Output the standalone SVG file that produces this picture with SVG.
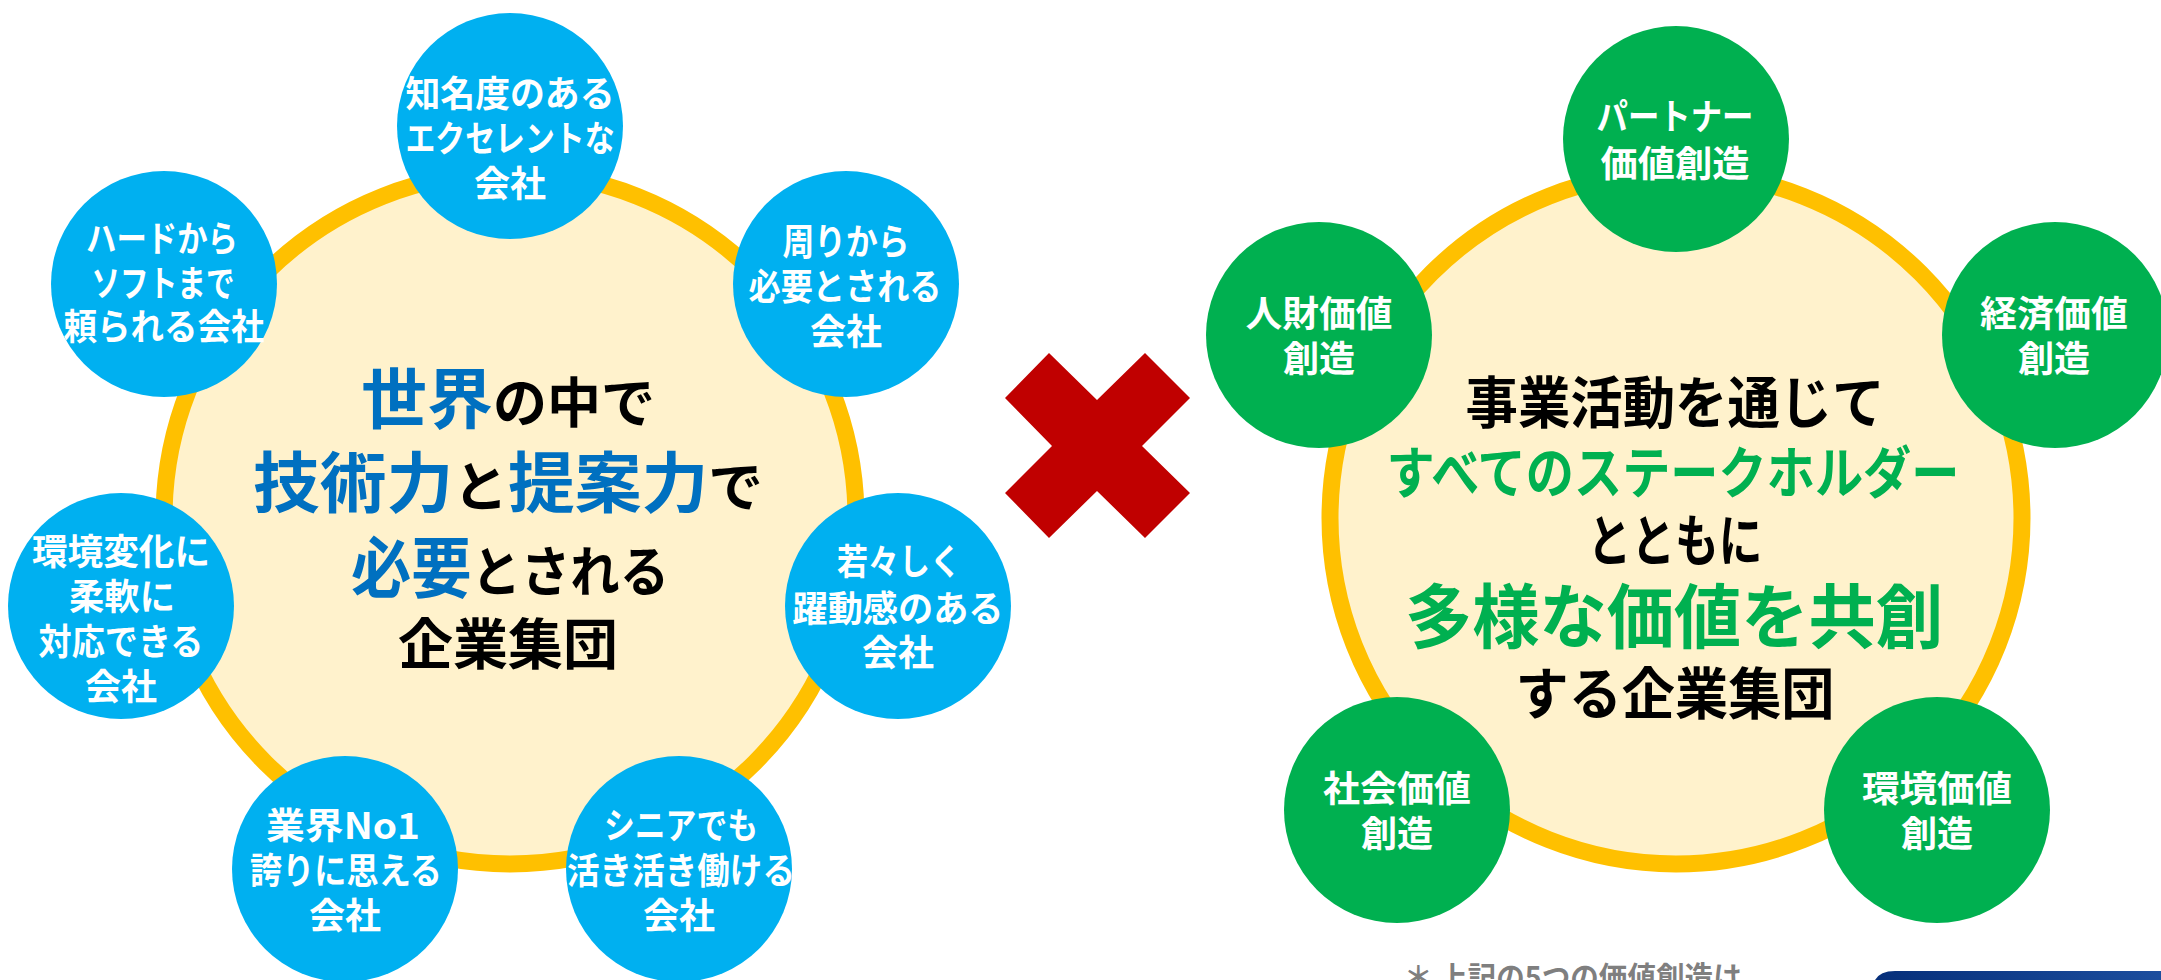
<svg xmlns="http://www.w3.org/2000/svg" width="2161" height="980" viewBox="0 0 2161 980">
<defs>
<style>
text{font-family:"Noto Sans CJK JP","Noto Sans",sans-serif;font-weight:bold;text-anchor:middle}
.ring{fill:#FFF2CC;stroke:#FFC000;stroke-width:17}
.blue{fill:#00B0F0}
.green{fill:#00B050}
.wt{fill:#FFFFFF;font-size:36px}
.bk{fill:#000000}
.bl{fill:#0070C0}
.gr{fill:#00B050}
.note{fill:#7F7F7F;font-size:30px;text-anchor:start}
</style>
<linearGradient id="navy" x1="0" y1="0" x2="1" y2="0">
<stop offset="0" stop-color="#062F7A"/>
<stop offset="1" stop-color="#1C4E9E"/>
</linearGradient>
</defs>
<rect width="2161" height="980" fill="#FFFFFF"/>
<g id="connectors"/>

<!-- LEFT -->
<g id="left-core">
<circle class="ring" cx="510" cy="518" r="346"/>
<text x="508" y="423"><tspan class="bl" font-size="66">世界</tspan><tspan class="bk" font-size="54">の中で</tspan></text>
<text x="508" y="507" textLength="510" lengthAdjust="spacingAndGlyphs"><tspan class="bl" font-size="66">技術力</tspan><tspan class="bk" font-size="54">と</tspan><tspan class="bl" font-size="66">提案力</tspan><tspan class="bk" font-size="54">で</tspan></text>
<text x="510" y="592" textLength="318" lengthAdjust="spacingAndGlyphs"><tspan class="bl" font-size="66">必要</tspan><tspan class="bk" font-size="54">とされる</tspan></text>
<text class="bk" x="508" y="664" font-size="55">企業集団</text>
</g>
<g id="n-chimeido">
<circle class="blue" cx="510" cy="126" r="113"/>
<text class="wt" x="510" y="107" textLength="209" lengthAdjust="spacingAndGlyphs">知名度のある</text>
<text class="wt" x="510" y="152" textLength="209" lengthAdjust="spacingAndGlyphs">エクセレントな</text>
<text class="wt" x="510" y="197">会社</text>
</g>
<g id="n-hard">
<circle class="blue" cx="164" cy="284" r="113"/>
<text class="wt" x="162" y="252" textLength="152" lengthAdjust="spacingAndGlyphs">ハードから</text>
<text class="wt" x="163" y="297" textLength="143" lengthAdjust="spacingAndGlyphs">ソフトまで</text>
<text class="wt" x="164" y="340" textLength="201" lengthAdjust="spacingAndGlyphs">頼られる会社</text>
</g>
<g id="n-mawari">
<circle class="blue" cx="846" cy="284" r="113"/>
<text class="wt" x="846" y="255" textLength="127" lengthAdjust="spacingAndGlyphs">周りから</text>
<text class="wt" x="845" y="300" textLength="193" lengthAdjust="spacingAndGlyphs">必要とされる</text>
<text class="wt" x="846" y="345">会社</text>
</g>
<g id="n-kankyo">
<circle class="blue" cx="121" cy="606" r="113"/>
<text class="wt" x="121" y="565" textLength="178" lengthAdjust="spacingAndGlyphs">環境変化に</text>
<text class="wt" x="122" y="610" textLength="106" lengthAdjust="spacingAndGlyphs">柔軟に</text>
<text class="wt" x="121" y="655" textLength="165" lengthAdjust="spacingAndGlyphs">対応できる</text>
<text class="wt" x="121" y="700">会社</text>
</g>
<g id="n-wakawaka">
<circle class="blue" cx="898" cy="606" r="113"/>
<text class="wt" x="899" y="575" textLength="124" lengthAdjust="spacingAndGlyphs">若々しく</text>
<text class="wt" x="898" y="622" textLength="211" lengthAdjust="spacingAndGlyphs">躍動感のある</text>
<text class="wt" x="898" y="666">会社</text>
</g>
<g id="n-gyokai">
<circle class="blue" cx="345" cy="869" r="113"/>
<text class="wt" x="343" y="839" textLength="154" lengthAdjust="spacingAndGlyphs">業界No1</text>
<text class="wt" x="346" y="884" textLength="192" lengthAdjust="spacingAndGlyphs">誇りに思える</text>
<text class="wt" x="345" y="929">会社</text>
</g>
<g id="n-senior">
<circle class="blue" cx="679" cy="869" r="113"/>
<text class="wt" x="681" y="839" textLength="154" lengthAdjust="spacingAndGlyphs">シニアでも</text>
<text class="wt" x="681" y="884" textLength="228" lengthAdjust="spacingAndGlyphs">活き活き働ける</text>
<text class="wt" x="679" y="929">会社</text>
</g>

<!-- CROSS -->
<g id="cross">
<polygon fill="#C00000" points="1049,353 1097,400 1145,353 1190,398 1142,446 1190,493 1145,538 1097,491 1049,538 1005,493 1052,446 1005,398"/>
</g>

<!-- RIGHT -->
<g id="right-core">
<circle class="ring" cx="1676" cy="518" r="346"/>
<text class="bk" x="1675" y="423" font-size="56" textLength="419" lengthAdjust="spacingAndGlyphs">事業活動を通じて</text>
<text class="gr" x="1673" y="493" font-size="56" textLength="573" lengthAdjust="spacingAndGlyphs">すべてのステークホルダー</text>
<text class="bk" x="1675" y="561" font-size="56" textLength="175" lengthAdjust="spacingAndGlyphs">とともに</text>
<text class="gr" x="1674" y="643" font-size="70" textLength="538" lengthAdjust="spacingAndGlyphs">多様な価値を共創</text>
<text class="bk" x="1675" y="714" font-size="56" textLength="319" lengthAdjust="spacingAndGlyphs">する企業集団</text>
</g>
<g id="n-partner">
<circle class="green" cx="1676" cy="139" r="113"/>
<text class="wt" x="1675" y="130" textLength="157" lengthAdjust="spacingAndGlyphs">パートナー</text>
<text class="wt" x="1675" y="177" textLength="149" lengthAdjust="spacingAndGlyphs">価値創造</text>
</g>
<g id="n-jinzai">
<circle class="green" cx="1319" cy="335" r="113"/>
<text class="wt" x="1319" y="327" textLength="147" lengthAdjust="spacingAndGlyphs">人財価値</text>
<text class="wt" x="1319" y="372">創造</text>
</g>
<g id="n-keizai">
<circle class="green" cx="2055" cy="335" r="113"/>
<text class="wt" x="2054" y="327" textLength="148" lengthAdjust="spacingAndGlyphs">経済価値</text>
<text class="wt" x="2054" y="372">創造</text>
</g>
<g id="n-shakai">
<circle class="green" cx="1397" cy="810" r="113"/>
<text class="wt" x="1397" y="802" textLength="148" lengthAdjust="spacingAndGlyphs">社会価値</text>
<text class="wt" x="1397" y="847">創造</text>
</g>
<g id="n-kankyo-kachi">
<circle class="green" cx="1937" cy="810" r="113"/>
<text class="wt" x="1937" y="802" textLength="150" lengthAdjust="spacingAndGlyphs">環境価値</text>
<text class="wt" x="1937" y="847">創造</text>
</g>

<!-- FOOTER -->
<g id="footnote">
<text class="note" x="1404" y="988" textLength="347" lengthAdjust="spacingAndGlyphs">＊ 上記の5つの価値創造は,</text>
</g>
<g id="navy-bar">
<path fill="url(#navy)" d="M1875,980 Q1880,971 1895,971 L2161,971 L2161,980 Z"/>
</g>
</svg>
